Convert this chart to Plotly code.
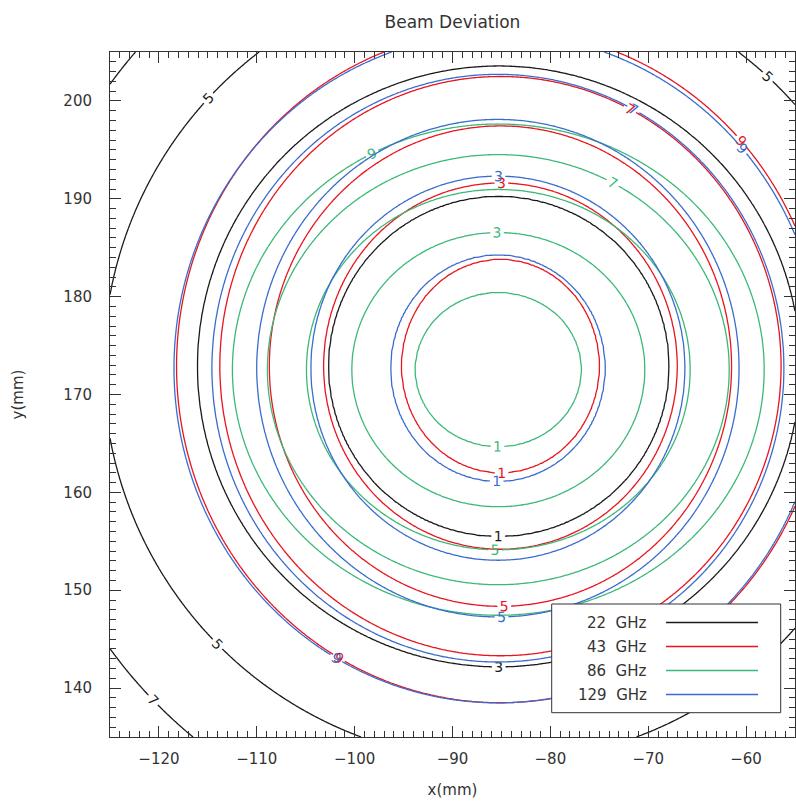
import numpy as np
import plotly.graph_objects as go

# ---------------- data ----------------
freqs = ["22 GHz", "43 GHz", "86 GHz", "129 GHz"]
colors = ["#1a1a1a", "#e8141e", "#3cb878", "#3a6ccf"]
levels = [1, 3, 5, 7, 9]
# centre of the contour rings (mm)
center_x = [-85.27, -85.10, -85.32, -85.36]
center_y = [172.87, 172.90, 172.54, 172.69]
# radius (mm) of each level ring, measured along the horizontal through the centre
radius_h = [
    [17.42, 30.80, 40.40, 49.10, 57.00],
    [10.13, 18.08, 23.62, 28.68, 33.10],
    [8.51, 14.98, 19.61, 23.60, 27.17],
    [10.98, 19.12, 24.65, 29.23, 33.10],
]
# radius (mm) of each level ring, measured along the vertical through the centre
radius_v = [
    [17.40, 30.71, 40.40, 49.10, 57.00],
    [10.93, 18.72, 24.55, 29.60, 34.40],
    [7.90, 14.02, 18.42, 21.98, 25.10],
    [11.60, 19.64, 25.43, 30.03, 34.20],
]
x_ticks = [-120, -110, -100, -90, -80, -70, -60]
y_ticks = [140, 150, 160, 170, 180, 190, 200]

# ---------------- build the fields on a grid ----------------
gx = np.linspace(-125, -55, 351)
gy = np.linspace(135, 205, 351)
X, Y = np.meshgrid(gx, gy)


def field(cx, cy, rh, rv):
    dx = X - cx
    dy = Y - cy
    d = np.hypot(dx, dy)
    c = np.divide(dx, d, out=np.ones_like(d), where=d > 0)
    s = np.divide(dy, d, out=np.zeros_like(d), where=d > 0)
    R = [np.zeros_like(d)]
    for a, b in zip(rh, rv):
        R.append(a * b / np.sqrt((b * c) ** 2 + (a * s) ** 2))
    L = [0] + list(levels)
    z = np.full_like(d, np.nan)
    n = len(R) - 1
    for k in range(n):
        r0, r1 = R[k], R[k + 1]
        zk = L[k] + (d - r0) / (r1 - r0) * (L[k + 1] - L[k])
        if k < n - 1:
            mask = (d >= r0) & (d < r1)
        else:
            mask = d >= r0
        z = np.where(mask, zk, z)
    return z


FONT = "DejaVu Sans"
TXT = "#333333"

fig = go.Figure()
for name, col, cx, cy, rh, rv in zip(freqs, colors, center_x, center_y, radius_h, radius_v):
    z = field(cx, cy, rh, rv)
    fig.add_trace(go.Contour(
        x=gx, y=gy, z=z, name=name,
        contours=dict(start=levels[0], end=levels[-1], size=2, coloring="none",
                      showlabels=True,
                      labelfont=dict(size=14, color=col, family=FONT)),
        line=dict(color=col, width=1.3),
        showscale=False, showlegend=False, hoverinfo="skip",
    ))

axis_common = dict(
    ticks="inside", ticklen=11, tickwidth=1, tickcolor=TXT,
    showline=True, linecolor=TXT, linewidth=1, mirror="allticks",
    showgrid=False, zeroline=False,
    minor=dict(dtick=1, ticks="inside", ticklen=6, tickcolor=TXT, showgrid=False),
    tickfont=dict(size=15, family=FONT, color=TXT),
)

fig.update_layout(
    width=796, height=802,
    margin=dict(l=110, r=1, t=52, b=65),
    paper_bgcolor="white", plot_bgcolor="white",
    title=dict(text="Beam Deviation", x=0.5, xref="paper", xanchor="center",
               y=1 - 22 / 802, yref="container", yanchor="middle",
               font=dict(size=17, family=FONT, color=TXT)),
    xaxis=dict(range=[-125, -55], tickvals=x_ticks, ticklabelstandoff=8,
               title=dict(text="x(mm)", standoff=17, font=dict(size=15, family=FONT, color=TXT)),
               **axis_common),
    yaxis=dict(range=[135, 205], tickvals=y_ticks, ticklabelstandoff=14,
               title=dict(text="y(mm)", standoff=36, font=dict(size=15, family=FONT, color=TXT)),
               **axis_common),
    showlegend=False,
)

# ---------------- legend box (text left, line sample right) ----------------
def px2x(px):
    return (px - 110) / 685


def py2y(py):
    return (737 - py) / 685


fig.add_shape(type="rect", xref="paper", yref="paper",
              x0=px2x(551.7), x1=px2x(780.7), y0=py2y(712.7), y1=py2y(604),
              fillcolor="white", line=dict(color=TXT, width=1), layer="above")
row_y = [622.5, 646.5, 670.5, 694.5]
for name, col, ry in zip(freqs, colors, row_y):
    fig.add_annotation(xref="paper", yref="paper", x=px2x(649), y=py2y(ry),
                       text=name.replace(" ", "&nbsp;&nbsp;"), showarrow=False,
                       xanchor="right", yanchor="middle",
                       font=dict(size=15, family=FONT, color=TXT))
    fig.add_shape(type="line", xref="paper", yref="paper",
                  x0=px2x(666), x1=px2x(758), y0=py2y(ry), y1=py2y(ry),
                  line=dict(color=col, width=1.3), layer="above")

fig.write_html("out.html")
